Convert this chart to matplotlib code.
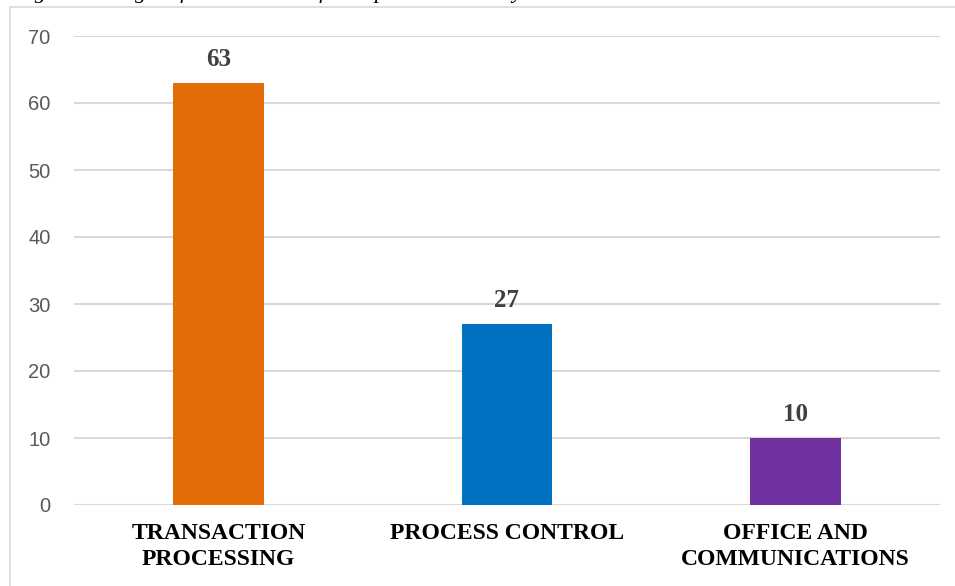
import matplotlib.pyplot as plt
from matplotlib.patches import Rectangle

categories = ["TRANSACTION\nPROCESSING", "PROCESS CONTROL", "OFFICE AND\nCOMMUNICATIONS"]
values = [63, 27, 10]
bar_colors = ["#E36C09", "#0070C0", "#7030A0"]
y_ticks = [0, 10, 20, 30, 40, 50, 60, 70]
caption = "Figure 4. Weight of the elements of the operational subsystem"

W, H = 955, 586
fig = plt.figure(figsize=(W / 100, H / 100), dpi=100)
ax = fig.add_axes([74 / W, 1 - 505 / H, (940 - 74) / W, (505 - 36) / H])

x = range(len(values))
ax.bar(x, values, width=0.315, color=bar_colors, zorder=3)

for xi, v in zip(x, values):
    ax.annotate(str(v), (xi, v), xytext=(0, 17), textcoords="offset points",
                ha="center", va="center", family="Liberation Serif",
                fontweight="bold", fontsize=18, color="#404040")

ax.set_xlim(-0.5, 2.5)
ax.set_ylim(0, 70)
ax.set_yticks(y_ticks)
ax.set_yticklabels([str(t) for t in y_ticks], family="Liberation Sans",
                   fontsize=14.5, color="#595959")
ax.set_xticks(list(x))
ax.set_xticklabels(categories, family="Liberation Serif", fontweight="bold",
                   fontsize=17, color="black", linespacing=1.3)
ax.tick_params(axis="both", length=0)
ax.tick_params(axis="y", pad=17)
ax.tick_params(axis="x", pad=13)

ax.grid(axis="y", color="#D9D9D9", linewidth=1.5, zorder=0)
for s in ax.spines.values():
    s.set_visible(False)

# chart frame, runs off the right and bottom edges
fig.patches.append(Rectangle((9.5 / W, -0.1), 1.2, 1.1 - 7.5 / H,
                             transform=fig.transFigure, fill=False,
                             edgecolor="#D9D9D9", linewidth=1.2))

# caption line sitting above the frame
fig.text(15 / W, 1 + 2 / H, caption, ha="left", va="baseline",
         family="Liberation Serif", style="italic", fontsize=16, color="black")

fig.savefig("out.png", dpi=100)
